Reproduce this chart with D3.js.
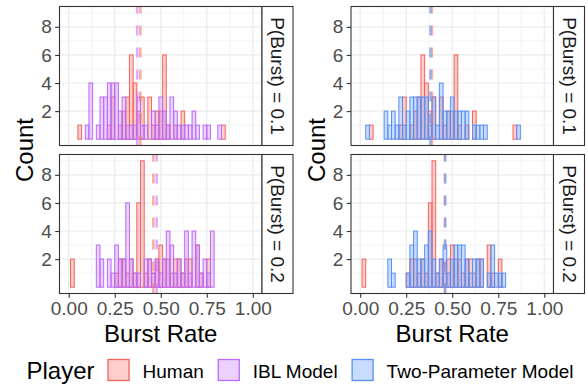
<!DOCTYPE html>
<html>
<head>
<meta charset="utf-8">
<script src="https://cdn.jsdelivr.net/npm/d3@7"></script>
<style>
  html, body { margin: 0; padding: 0; background: #fff; }
  svg { display: block; font-family: 'Liberation Sans', Arial, sans-serif; }
</style>
</head>
<body>
<svg id="chart"></svg>
<script>
// ---- data ----
const players = ['Human', 'IBL Model', 'Two-Parameter Model']
const burstLabels = ['P(Burst) = 0.1', 'P(Burst) = 0.2']
const xTicks = [0, 0.25, 0.5, 0.75, 1]
const yTicks = [2, 4, 6, 8]
const binWidth = 0.02

// [bin centre, count]
const humanP1 = [[0.06,1],[0.22,1],[0.24,3],[0.28,1],[0.30,2],[0.32,3],[0.34,6],[0.36,4],[0.38,2],[0.40,3],
  [0.44,3],[0.46,1],[0.48,2],[0.50,2],[0.52,6],[0.54,1],[0.58,1],[0.62,2],[0.84,1]]
const humanP2 = [[0.02,2],[0.26,1],[0.28,2],[0.30,2],[0.32,1],[0.34,2],[0.36,1],[0.38,6],[0.40,9],[0.42,1],
  [0.44,2],[0.46,1],[0.48,2],[0.50,3],[0.52,2],[0.54,2],[0.56,1],[0.58,2],[0.60,2],[0.62,1],[0.64,2],
  [0.66,2],[0.70,3],[0.72,1],[0.76,2]]
const iblP1 = [[0.10,1],[0.12,4],[0.16,1],[0.18,3],[0.20,3],[0.22,4],[0.24,4],[0.26,4],[0.28,2],[0.30,3],
  [0.32,1],[0.34,1],[0.36,1],[0.38,3],[0.40,1],[0.42,1],[0.46,2],[0.48,1],[0.50,3],[0.52,2],[0.54,1],
  [0.56,3],[0.58,2],[0.60,1],[0.62,1],[0.64,1],[0.66,1],[0.68,2],[0.70,1],[0.74,1],[0.76,1],[0.82,1]]
const iblP2 = [[0.16,3],[0.18,2],[0.22,2],[0.24,1],[0.26,3],[0.28,2],[0.30,2],[0.32,6],[0.34,2],[0.36,1],
  [0.38,1],[0.42,2],[0.44,2],[0.46,1],[0.48,2],[0.50,1],[0.52,2],[0.54,4],[0.56,3],[0.58,1],[0.60,2],
  [0.62,1],[0.64,4],[0.66,1],[0.68,4],[0.70,3],[0.72,1],[0.74,2],[0.76,1],[0.78,4]]
const twoParamP1 = [[0.04,1],[0.14,2],[0.16,1],[0.18,2],[0.20,1],[0.22,3],[0.24,1],[0.26,2],[0.28,3],[0.30,3],
  [0.32,3],[0.34,3],[0.36,3],[0.38,1],[0.40,3],[0.42,1],[0.44,4],[0.46,2],[0.48,2],[0.50,3],[0.52,2],
  [0.54,2],[0.56,2],[0.58,2],[0.62,1],[0.64,1],[0.66,1],[0.68,1],[0.86,1]]
const twoParamP2 = [[0.16,2],[0.18,1],[0.26,1],[0.28,3],[0.30,4],[0.32,2],[0.34,2],[0.36,3],[0.38,4],[0.40,2],
  [0.42,1],[0.44,2],[0.46,3],[0.48,1],[0.50,2],[0.52,3],[0.54,3],[0.56,3],[0.58,2],[0.60,1],[0.62,2],
  [0.64,2],[0.66,2],[0.70,1],[0.72,3],[0.74,1],[0.76,1],[0.78,1]]

// dashed mean lines, [P = 0.1, P = 0.2]
const humanMeans = [0.389, 0.46]
const iblMeans = [0.372, 0.478]
const twoParamMeans = [0.381, 0.462]

const fills = { 'Human': '#F8766D', 'IBL Model': '#C77CFF', 'Two-Parameter Model': '#619CFF' }
const strokes = { 'Human': '#F3625E', 'IBL Model': '#BA6BF8', 'Two-Parameter Model': '#5990F6' }

// ---- layout ----
const W = 587
const H = 385
const panelW = 202.5
const panelH = 139
const stripW = 31
const panelTops = [6.5, 154.5]
const font = "'Liberation Sans', Arial, sans-serif"

const svg = d3.select('#chart').attr('width', W).attr('height', H)

const plots = [
  { x0: 59.5, model: 'IBL Model', bins: [iblP1, iblP2], means: iblMeans },
  { x0: 351, model: 'Two-Parameter Model', bins: [twoParamP1, twoParamP2], means: twoParamMeans },
]

plots.forEach((p) => drawPlot(p))
drawLegend()

function drawPlot(p) {
  const x = d3.scaleLinear().domain([-0.05, 1.05]).range([p.x0, p.x0 + panelW])

  panelTops.forEach((top, r) => {
    const y = d3.scaleLinear().domain([-0.45, 9.45]).range([top + panelH, top])
    const g = svg.append('g')

    g.append('rect')
      .attr('x', p.x0).attr('y', top).attr('width', panelW).attr('height', panelH)
      .attr('fill', '#fff')

    // grid
    const xMinor = [0.125, 0.375, 0.625, 0.875]
    const yMinor = [1, 3, 5, 7, 9]
    g.selectAll('.vminor').data(xMinor).enter().append('line')
      .attr('x1', (d) => x(d)).attr('x2', (d) => x(d))
      .attr('y1', top).attr('y2', top + panelH)
      .attr('stroke', '#EBEBEB').attr('stroke-width', 0.6)
    g.selectAll('.hminor').data(yMinor).enter().append('line')
      .attr('x1', p.x0).attr('x2', p.x0 + panelW)
      .attr('y1', (d) => y(d)).attr('y2', (d) => y(d))
      .attr('stroke', '#EBEBEB').attr('stroke-width', 0.6)
    g.selectAll('.vmajor').data(xTicks).enter().append('line')
      .attr('x1', (d) => x(d)).attr('x2', (d) => x(d))
      .attr('y1', top).attr('y2', top + panelH)
      .attr('stroke', '#EBEBEB').attr('stroke-width', 1.2)
    g.selectAll('.hmajor').data(yTicks).enter().append('line')
      .attr('x1', p.x0).attr('x2', p.x0 + panelW)
      .attr('y1', (d) => y(d)).attr('y2', (d) => y(d))
      .attr('stroke', '#EBEBEB').attr('stroke-width', 1.2)

    // bars, human first then the model on top
    const series = [
      { name: 'Human', bins: r === 0 ? humanP1 : humanP2, mean: humanMeans[r] },
      { name: p.model, bins: p.bins[r], mean: p.means[r] },
    ]
    series.forEach((s) => {
      g.append('g').selectAll('rect').data(s.bins).enter().append('rect')
        .attr('x', (d) => x(d[0] - binWidth / 2))
        .attr('width', (d) => x(d[0] + binWidth / 2) - x(d[0] - binWidth / 2))
        .attr('y', (d) => y(d[1]))
        .attr('height', (d) => y(0) - y(d[1]))
        .attr('fill', fills[s.name]).attr('fill-opacity', 0.35)
        .attr('stroke', strokes[s.name]).attr('stroke-width', 1)
    })
    series.forEach((s) => {
      g.append('line')
        .attr('x1', x(s.mean)).attr('x2', x(s.mean))
        .attr('y1', top + panelH).attr('y2', top)
        .attr('stroke', fills[s.name]).attr('stroke-opacity', 0.6)
        .attr('stroke-width', 2.6).attr('stroke-dasharray', '10,12')
    })

    // panel border
    g.append('rect')
      .attr('x', p.x0).attr('y', top).attr('width', panelW).attr('height', panelH)
      .attr('fill', 'none').attr('stroke', '#333333').attr('stroke-width', 1.1)

    // strip
    g.append('rect')
      .attr('x', p.x0 + panelW).attr('y', top).attr('width', stripW).attr('height', panelH)
      .attr('fill', '#fff').attr('stroke', '#333333').attr('stroke-width', 1.1)
    const sx = p.x0 + panelW + stripW / 2
    const sy = top + panelH / 2
    g.append('text')
      .attr('transform', `translate(${sx},${sy}) rotate(90)`)
      .attr('text-anchor', 'middle').attr('dominant-baseline', 'central')
      .style('font-size', '19px').attr('fill', '#1A1A1A')
      .text(burstLabels[r])

    // y axis
    const yAxis = d3.axisLeft(y).tickValues(yTicks).tickSize(4.3).tickPadding(3.3)
    const ya = g.append('g').attr('transform', `translate(${p.x0},0)`).call(yAxis)
    styleAxis(ya)

    if (r === 1) {
      const xAxis = d3.axisBottom(x).tickValues(xTicks).tickFormat(d3.format('.2f'))
        .tickSize(4.3).tickPadding(3.8)
      const xa = g.append('g').attr('transform', `translate(0,${top + panelH})`).call(xAxis)
      styleAxis(xa)
    }
  })

  // titles
  svg.append('text')
    .attr('x', p.x0 + panelW / 2).attr('y', 341.5)
    .attr('text-anchor', 'middle')
    .style('font-size', '24px').attr('fill', '#000')
    .text('Burst Rate')
  svg.append('text')
    .attr('transform', `translate(${p.x0 - 26.5},${(panelTops[0] + panelTops[1] + panelH) / 2}) rotate(-90)`)
    .attr('text-anchor', 'middle')
    .style('font-size', '24px').attr('fill', '#000')
    .text('Count')
}

function styleAxis(a) {
  a.select('.domain').remove()
  a.selectAll('.tick line').attr('stroke', '#333333').attr('stroke-width', 1.1)
  a.selectAll('.tick text')
    .attr('fill', '#4D4D4D')
    .style('font-size', '19px')
    .style('font-family', font)
}

function drawLegend() {
  const g = svg.append('g').attr('id', 'legend')
  const cy = 370
  const key = 22
  let cx = 0
  const title = g.append('text').attr('x', cx).attr('y', cy + 8.5)
    .style('font-size', '24px').attr('fill', '#000').text('Player')
  cx += title.node().getComputedTextLength() + 13
  players.forEach((name) => {
    g.append('rect')
      .attr('x', cx + 0.5).attr('y', cy - key / 2 + 0.5)
      .attr('width', key - 1).attr('height', key - 1)
      .attr('fill', fills[name]).attr('fill-opacity', 0.35)
      .attr('stroke', strokes[name]).attr('stroke-width', 1.3)
    cx += key + 13
    const t = g.append('text').attr('x', cx).attr('y', cy + 8)
      .style('font-size', '19px').attr('fill', '#000').text(name)
    cx += t.node().getComputedTextLength() + 14
  })
  const total = cx - 14
  g.attr('transform', `translate(${300 - total / 2},0)`)
}
</script>
</body>
</html>
